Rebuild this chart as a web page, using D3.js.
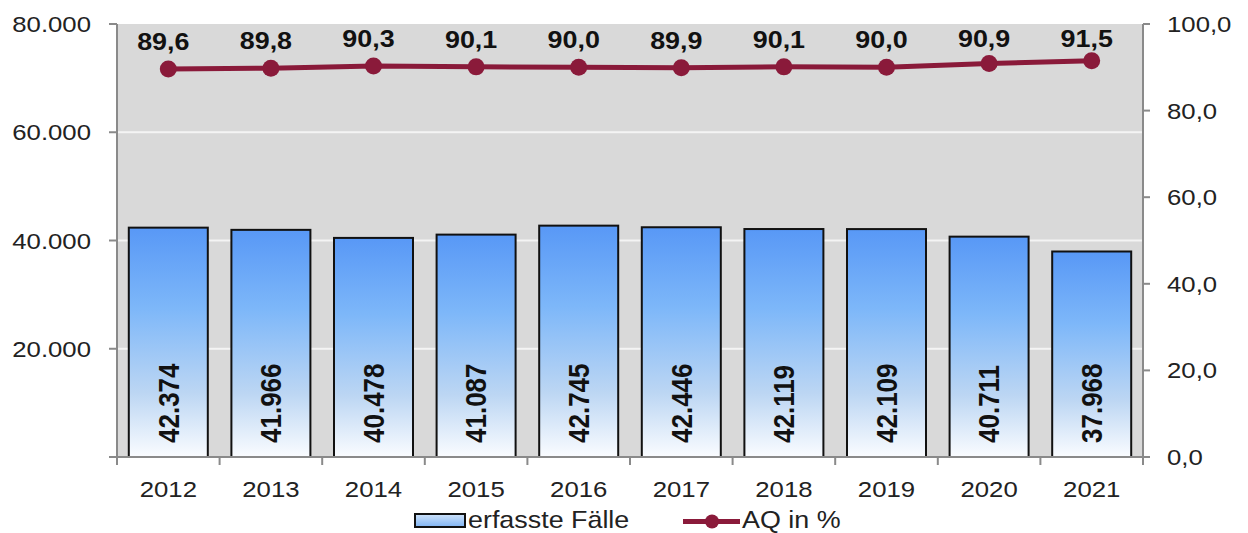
<!DOCTYPE html>
<html>
<head>
<meta charset="utf-8">
<script src="https://cdn.jsdelivr.net/npm/d3@7"></script>
<style>
  html, body { margin: 0; padding: 0; background: #ffffff; }
  svg { display: block; font-family: Arial, "Liberation Sans", sans-serif; }
</style>
</head>
<body>
<svg id="chart" width="1248" height="533"></svg>
<script>
// Jahre, erfasste Fälle und Aufklärungsquote (AQ in %)
const years = ["2012", "2013", "2014", "2015", "2016", "2017", "2018", "2019", "2020", "2021"];
const cases = [42374, 41966, 40478, 41087, 42745, 42446, 42119, 42109, 40711, 37968];
const aq = [89.6, 89.8, 90.3, 90.1, 90.0, 89.9, 90.1, 90.0, 90.9, 91.5];
const leftTicks = [0, 20000, 40000, 60000, 80000];
const rightTicks = [0, 20, 40, 60, 80, 100];
const legendLabels = ["erfasste Fälle", "AQ in %"];

const deLocale = d3.formatLocale({ decimal: ",", thousands: ".", grouping: [3] });
const fmtCases = deLocale.format(",d");
const fmtPct = deLocale.format(".1f");

const svg = d3.select("#chart");
const plotLeft = 117, plotRight = 1143, plotTop = 24, plotBottom = 457;
const SX = 1.12; // horizontal glyph stretch

const x = d3.scaleBand().domain(years).range([plotLeft, plotRight]).paddingInner(0.23).paddingOuter(0.115);
const yL = d3.scaleLinear().domain([0, 80000]).range([plotBottom, plotTop]);
const yR = d3.scaleLinear().domain([0, 100]).range([plotBottom, plotTop]);

const defs = svg.append("defs");
const grad = defs.append("linearGradient").attr("id", "barFill")
  .attr("x1", 0).attr("y1", 0).attr("x2", 0).attr("y2", 1);
grad.append("stop").attr("offset", "0%").attr("stop-color", "#5898f6");
grad.append("stop").attr("offset", "35%").attr("stop-color", "#7db7f9");
grad.append("stop").attr("offset", "72%").attr("stop-color", "#bcd6f3");
grad.append("stop").attr("offset", "100%").attr("stop-color", "#fafcff");

const legGrad = defs.append("linearGradient").attr("id", "legFill")
  .attr("x1", 0).attr("y1", 0).attr("x2", 0).attr("y2", 1);
legGrad.append("stop").attr("offset", "0%").attr("stop-color", "#cfe3fa");
legGrad.append("stop").attr("offset", "100%").attr("stop-color", "#7fb3f2");

// stretched text helper
function label(g, tx, ty, txt, opts) {
  const o = Object.assign({ size: 23, weight: "normal", anchor: "middle", rotate: 0, dy: "0" }, opts);
  const grp = g.append("g")
    .attr("transform", `translate(${tx},${ty}) scale(${SX},1)` + (o.rotate ? ` rotate(${o.rotate})` : ""));
  grp.append("text")
    .attr("text-anchor", o.anchor)
    .attr("dy", o.dy)
    .attr("font-size", o.size)
    .attr("font-weight", o.weight)
    .attr("fill", o.fill || "#222")
    .text(txt);
  return grp;
}

// plot background
svg.append("rect").attr("x", plotLeft).attr("y", plotTop)
  .attr("width", plotRight - plotLeft).attr("height", plotBottom - plotTop).attr("fill", "#d9d9d9");

// gridlines
svg.append("g").selectAll("line").data(leftTicks.filter(d => d > 0 && d < 80000)).join("line")
  .attr("x1", plotLeft).attr("x2", plotRight)
  .attr("y1", d => yL(d)).attr("y2", d => yL(d))
  .attr("stroke", "#f4f4f4").attr("stroke-width", 2);

// bars
svg.append("g").selectAll("rect").data(cases).join("rect")
  .attr("x", (d, i) => x(years[i]))
  .attr("y", d => yL(d))
  .attr("width", x.bandwidth())
  .attr("height", d => yL(0) - yL(d))
  .attr("fill", "url(#barFill)")
  .attr("stroke", "#111").attr("stroke-width", 2);

// bar value labels
const barLab = svg.append("g");
cases.forEach((d, i) => {
  label(barLab, x(years[i]) + x.bandwidth() / 2, 443, fmtCases(d),
    { size: 26, weight: "bold", anchor: "start", rotate: -90, dy: "0.35em", fill: "#111" });
});

// axes
const axisColor = "#8a8a8a";
const ax = svg.append("g").attr("stroke", axisColor).attr("stroke-width", 2);
ax.append("line").attr("x1", plotLeft).attr("x2", plotLeft).attr("y1", plotTop).attr("y2", plotBottom + 8);
ax.append("line").attr("x1", plotRight).attr("x2", plotRight).attr("y1", plotTop).attr("y2", plotBottom + 8);
ax.append("line").attr("x1", plotLeft - 8).attr("x2", plotRight + 7).attr("y1", plotBottom).attr("y2", plotBottom);
ax.selectAll(".tl").data(leftTicks).join("line")
  .attr("x1", plotLeft - 8).attr("x2", plotLeft).attr("y1", d => yL(d)).attr("y2", d => yL(d));
ax.selectAll(".tr").data(rightTicks).join("line")
  .attr("x1", plotRight).attr("x2", plotRight + 7).attr("y1", d => yR(d)).attr("y2", d => yR(d));
const bounds = years.map(y => x(y) - x.step() * x.paddingInner() / 2).concat([plotRight]);
ax.selectAll(".tx").data(bounds).join("line")
  .attr("x1", d => d).attr("x2", d => d).attr("y1", plotBottom).attr("y2", plotBottom + 8);

// tick labels (left axis shows no label at zero)
const tickLab = svg.append("g");
leftTicks.filter(t => t > 0).forEach(t => label(tickLab, 91, yL(t), fmtCases(t), { anchor: "end", dy: "0.35em" }));
rightTicks.forEach(t => label(tickLab, 1167, yR(t), fmtPct(t), { anchor: "start", dy: "0.35em" }));
years.forEach(y => label(tickLab, x(y) + x.bandwidth() / 2, 497, y, {}));

// AQ line
const lineColor = "#8a1a3a";
const cx = i => x(years[i]) + x.bandwidth() / 2;
svg.append("path")
  .datum(aq)
  .attr("d", d3.line().x((d, i) => cx(i)).y(d => yR(d)))
  .attr("fill", "none").attr("stroke", lineColor).attr("stroke-width", 5);
svg.append("g").selectAll("circle").data(aq).join("circle")
  .attr("cx", (d, i) => cx(i)).attr("cy", d => yR(d)).attr("r", 8.5)
  .attr("fill", lineColor);

const aqLab = svg.append("g");
aq.forEach((d, i) => {
  label(aqLab, cx(i) - 5, Math.max(yR(d) - 19, 47), fmtPct(d), { size: 24, weight: "bold", fill: "#111" });
});

// legend
const leg = svg.append("g");
leg.append("rect").attr("x", 415).attr("y", 514).attr("width", 50).attr("height", 13)
  .attr("fill", "url(#legFill)").attr("stroke", "#111").attr("stroke-width", 2);
label(leg, 468, 528, legendLabels[0], { anchor: "start", size: 24 });
leg.append("line").attr("x1", 683).attr("x2", 740).attr("y1", 521.5).attr("y2", 521.5)
  .attr("stroke", lineColor).attr("stroke-width", 5);
leg.append("circle").attr("cx", 712).attr("cy", 521.5).attr("r", 7).attr("fill", lineColor);
label(leg, 742, 528, legendLabels[1], { anchor: "start", size: 24 });
</script>
</body>
</html>
